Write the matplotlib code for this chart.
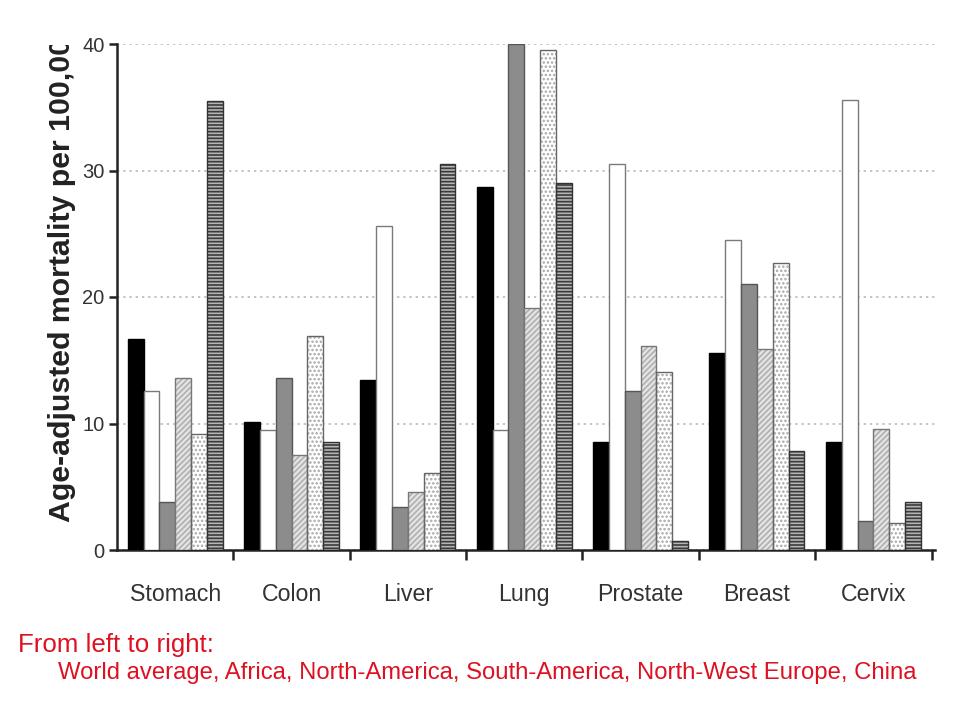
import numpy as np
from matplotlib import pyplot as plt
from matplotlib.transforms import Bbox, TransformedBbox

plt.rcParams['font.family'] = ['Liberation Sans', 'DejaVu Sans']

cancers = ['Stomach', 'Colon', 'Liver', 'Lung', 'Prostate', 'Breast', 'Cervix']
regions = ['World average', 'Africa', 'North-America', 'South-America',
           'North-West Europe', 'China']

world = [16.7, 10.1, 13.4, 28.7, 8.5, 15.6, 8.5]
africa = [12.6, 9.5, 25.6, 9.5, 30.5, 24.5, 35.6]
north_america = [3.8, 13.6, 3.4, 40.0, 12.6, 21.0, 2.3]
south_america = [13.6, 7.5, 4.6, 19.1, 16.1, 15.9, 9.6]
nw_europe = [9.2, 16.9, 6.1, 39.5, 14.1, 22.7, 2.1]
china = [35.5, 8.5, 30.5, 29.0, 0.7, 7.8, 3.8]

series = [world, africa, north_america, south_america, nw_europe, china]

# fill, hatch, hatch colour, border colour
styles = [
    ('#000000', None, None, '#000000'),
    ('#ffffff', None, None, '#7a7a7a'),
    ('#8c8c8c', None, None, '#555555'),
    ('#e4e4e4', '//////', '#b0b0b0', '#777777'),
    ('#ffffff', '....', '#a8a8a8', '#666666'),
    ('#b5b5b5', '-----', '#3a3a3a', '#333333'),
]

fig = plt.figure(figsize=(9.6, 7.2), dpi=100)
ax = fig.add_axes([117 / 960, 1 - 550 / 720, (935 - 117) / 960, (550 - 44) / 720])

x = np.arange(len(cancers))
width = 0.136
plt.rcParams['hatch.linewidth'] = 1.2

for i, (vals, (fc, hatch, hc, ec)) in enumerate(zip(series, styles)):
    pos = x + (i - 2.5) * width
    if hatch:
        ax.bar(pos, vals, width, color=fc, edgecolor=hc, hatch=hatch,
               linewidth=0, zorder=3, label=regions[i])
        ax.bar(pos, vals, width, fill=False, edgecolor=ec, linewidth=1.0, zorder=4)
    else:
        ax.bar(pos, vals, width, color=fc, edgecolor=ec, linewidth=1.0,
               zorder=3, label=regions[i])

ax.set_ylim(0, 40)
ax.set_xlim(-0.5, 6.53)
ax.set_yticks([0, 10, 20, 30, 40])
ax.yaxis.grid(True, linestyle=(0, (1.2, 2)), color='#c4c4c4', linewidth=1.4, zorder=0)

ax.set_xticks(np.arange(0.5, 7, 1.0))
ax.set_xticklabels([])
ax.set_xticks(x, minor=True)
ax.set_xticklabels(cancers, minor=True)
ax.tick_params(axis='x', which='major', direction='out', length=7, width=1.8, color='#222222')
ax.tick_params(axis='x', which='minor', length=0, pad=24, labelsize=16.7, labelcolor='#333333')
ax.tick_params(axis='y', direction='out', length=6, width=1.8, color='#222222',
               pad=3, labelsize=14.5, labelcolor='#333333')

for side in ('top', 'right'):
    ax.spines[side].set_visible(False)
for side in ('left', 'bottom'):
    ax.spines[side].set_linewidth(1.8)
    ax.spines[side].set_color('#222222')

ylab = fig.text(62 / 960, 1 - 522 / 720, 'Age-adjusted mortality per 100,000',
                rotation=90, ha='center', va='bottom', fontsize=21.8,
                fontweight='bold', color='#222222')
ylab.set_clip_box(TransformedBbox(Bbox([[0, 0], [1, 1 - 45 / 720]]), fig.transFigure))
ylab.set_clip_on(True)

fig.text(18 / 960, 1 - 645 / 720, 'From left to right:', fontsize=18.6,
         color='#dd1122', va='center')
fig.text(58 / 960, 1 - 673 / 720, ', '.join(regions), fontsize=17.2,
         color='#dd1122', va='center')

fig.savefig('out.png', dpi=100, facecolor='white')
